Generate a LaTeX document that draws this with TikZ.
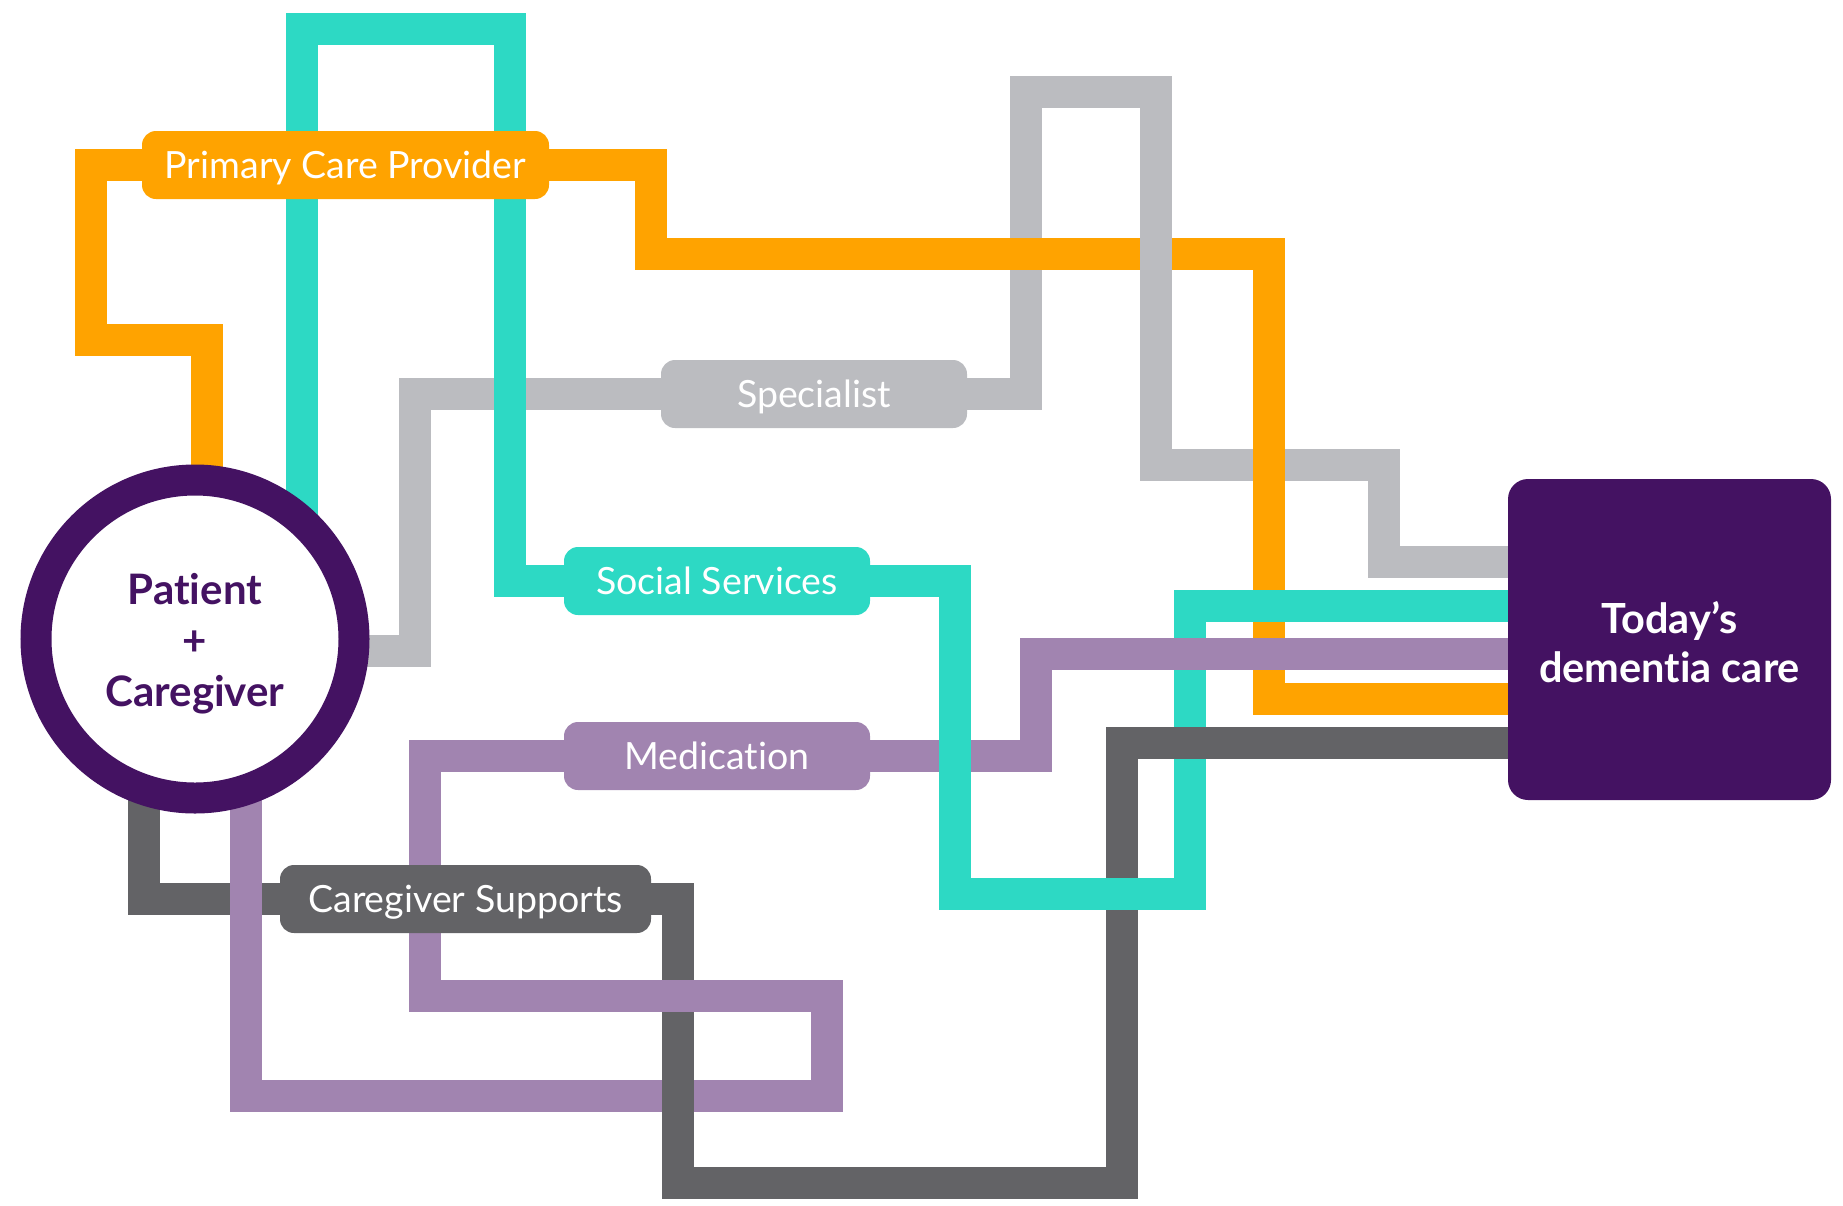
\documentclass[tikz,border=0pt]{standalone}
\usepackage{fontspec}
\setmainfont{Lato}[Ligatures=NoCommon]
\usetikzlibrary{calc}
\pgfdeclarelayer{fond}
\pgfsetlayers{fond,main}
\definecolor{orng}{HTML}{FFA300}
\definecolor{turq}{HTML}{2DD9C4}
\definecolor{gris}{HTML}{BBBCC0}
\definecolor{anthra}{HTML}{636366}
\definecolor{lilas}{HTML}{A184B0}
\definecolor{prune}{HTML}{441262}
\begin{document}
\begin{tikzpicture}[x=1pt,y=-1pt,
    voie/.style={line width=32pt},
    etiq/.style={rounded corners=14pt, minimum height=68pt, minimum width=306pt,
      inner sep=0pt, text height=26.5pt, text depth=0pt, text=white,
      font=\fontsize{37.5}{44}\selectfont},
    gras/.style={align=center, font=\bfseries\fontsize{42}{51}\selectfont}]
            % Cadre
            \useasboundingbox (0,0) rectangle (1843,1205);
            % Patient + aidant
            \node[circle, draw=prune, line width=31pt, fill=white, minimum size=318pt,
              inner sep=0pt] (pc) at (195,639) {};
            \node[gras, text=prune] (pctxt) at ($(pc)+(0,5)$) {Patient\\+\\Caregiver};
            % Soins d'aujourd'hui
            \node[fill=prune, rounded corners=20pt, minimum width=323pt, minimum height=321pt] (box) at (1669.5,639.5) {};
            \node[gras, text=white, font=\bfseries\fontsize{41.5}{49}\selectfont] (boxtxt) at ($(box)+(0,3)$) {Today’s\\dementia care};
            % Etiquettes
            \node[etiq, fill=orng, minimum width=407pt] (pcp) at (345.5,165) {Primary Care Provider};
            \node[etiq, fill=gris] (spec) at (814,394) {Specialist};
            \node[etiq, fill=turq] (social) at (717,581) {Social Services};
            \node[etiq, fill=lilas] (med) at (717,756) {Medication};
            \node[etiq, fill=anthra, minimum width=371pt] (cs) at (465.5,899) {Caregiver Supports};
            \begin{pgfonlayer}{fond}
            % Specialiste
            \draw[voie, gris] ($(pc)+(0,12)$) -| (415,394) -- (spec);
            \draw[voie, gris] (spec) -| (1026,92) -| (1156,465) -| (1384,562) -- (1384,562 -| box);
            % Medecin traitant
            \draw[voie, orng] ($(pc)+(12,0)$) |- (91,340) |- (pcp);
            \draw[voie, orng] (pcp) -| (651,254) -| (1269,699) -- (1269,699 -| box);
            % Services sociaux
            \draw[voie, turq] ($(pc)+(107,0)$) |- (510,29) |- (social);
            \draw[voie, turq] (social) -| (955,894) -| (1190,606) -- (1190,606 -| box);
            % Soutien aux aidants
            \draw[voie, anthra] ($(pc)+(-51,0)$) |- (cs);
            \draw[voie, anthra] (cs) -| (678,1183) -| (1122,743) -- (1122,743 -| box);
            % Medicaments
            \draw[voie, lilas] (med) -| (1036,654) -- (1036,654 -| box);
            \draw[voie, lilas] (med) -| (425,996) -| (827,1096) -| ($(pc)+(51,0)$);
            % Croisements par-dessus
            \draw[voie, gris] (1156,220) -- (1156,290);
            \draw[voie, turq] (955,725) -- (955,787);
            \draw[voie, turq] (1095,894) -- (1150,894);
            \draw[voie, anthra] (678,1065) -- (678,1128);
            \end{pgfonlayer}
        \end{tikzpicture}
\end{document}
